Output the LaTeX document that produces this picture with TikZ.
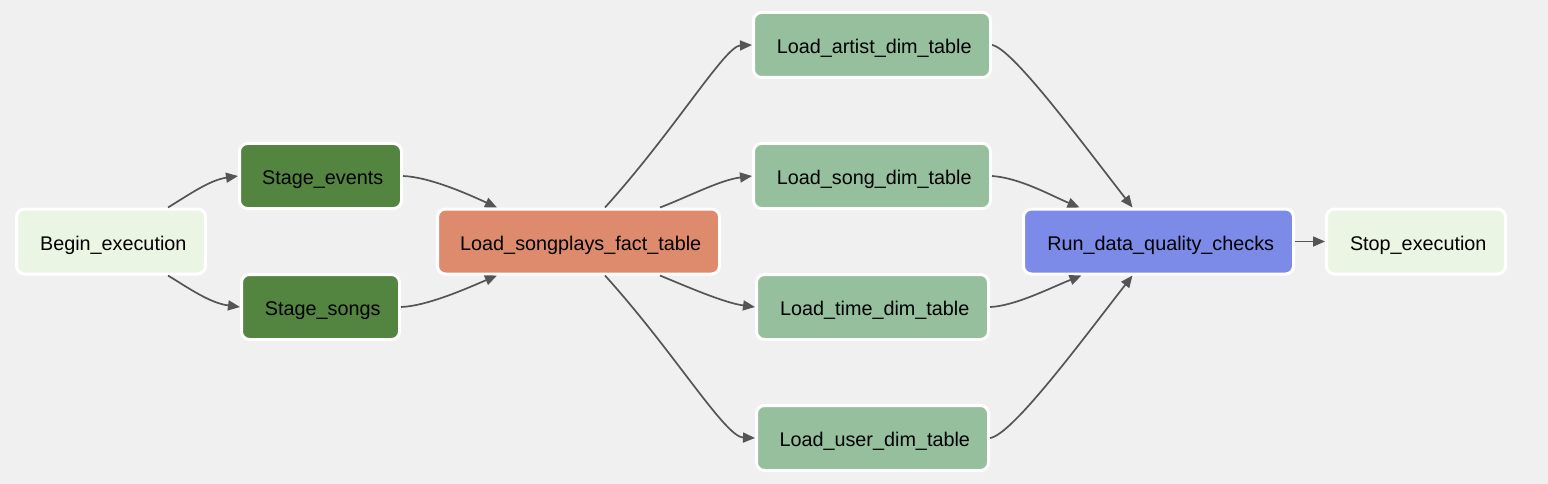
\documentclass[tikz,border=0pt]{standalone}
\usepackage{fontspec}
\setmainfont{Liberation Sans}
\usetikzlibrary{arrows.meta}
\definecolor{bgc}{HTML}{F0F0F0}
\definecolor{lightg}{HTML}{EBF5E4}
\definecolor{darkg}{HTML}{538541}
\definecolor{factc}{HTML}{DE8B6D}
\definecolor{dimc}{HTML}{95BF9D}
\definecolor{runc}{HTML}{7C8BE8}
\definecolor{edgec}{HTML}{555555}
\tikzset{
  task/.style={draw=white, line width=3pt, rounded corners=8pt, inner sep=0pt,
    minimum height=65pt, text height=17pt, text depth=0pt,
    execute at begin node={\hspace*{4.5pt}},
    font=\fontsize{19.8pt}{22pt}\selectfont, text=black},
  conn/.style={draw=edgec, line width=1.7pt, -{Triangle[length=12pt,width=10pt]}}
}
\begin{document}
\begin{tikzpicture}[x=1pt,y=-1pt]
\useasboundingbox[fill=bgc] (0,0) rectangle (1548,484);
\node[task, fill=lightg, minimum width=189pt] (begin) at (111,241.5) {Begin\_execution};
\node[task, fill=darkg, minimum width=162pt] (se) at (320.5,176) {Stage\_events};
\node[task, fill=darkg, minimum width=158pt] (ss) at (320.5,307) {Stage\_songs};
\node[task, fill=factc, minimum width=282pt] (fact) at (578.5,241.5) {Load\_songplays\_fact\_table};
\node[task, fill=dimc, minimum width=237pt] (artist) at (872,45) {Load\_artist\_dim\_table};
\node[task, fill=dimc, minimum width=237pt] (song) at (872,176) {Load\_song\_dim\_table};
\node[task, fill=dimc, minimum width=232pt] (time) at (872.5,307) {Load\_time\_dim\_table};
\node[task, fill=dimc, minimum width=232pt] (user) at (872.5,438) {Load\_user\_dim\_table};
\node[task, fill=runc, minimum width=270pt] (run) at (1158.5,241.5) {Run\_data\_quality\_checks};
\node[task, fill=lightg, minimum width=179pt] (stop) at (1416,241.5) {Stop\_execution};

\draw[conn] ([xshift=57pt]begin.north) .. controls (190,194) and (210,180) .. (se.west);
\draw[conn] ([xshift=57pt]begin.south) .. controls (190,289) and (210,303) .. (ss.west);
\draw[conn] (se.east) .. controls (430,177) and (470,195) .. ([xshift=-81.5pt]fact.north);
\draw[conn] (ss.east) .. controls (428,306) and (470,287) .. ([xshift=-81.5pt]fact.south);
\draw[conn] ([xshift=26.5pt]fact.north) .. controls (675,130) and (725,46) .. (artist.west);
\draw[conn] ([xshift=81.5pt]fact.north) .. controls (690,196) and (720,180) .. (song.west);
\draw[conn] ([xshift=81.5pt]fact.south) .. controls (690,288) and (725,303) .. (time.west);
\draw[conn] ([xshift=26.5pt]fact.south) .. controls (675,353) and (725,437) .. (user.west);
\draw[conn] (artist.east) .. controls (1012,48) and (1080,140) .. ([xshift=-26pt]run.north);
\draw[conn] (song.east) .. controls (1020,178) and (1050,195) .. ([xshift=-79pt]run.north);
\draw[conn] (time.east) .. controls (1015,306) and (1050,288) .. ([xshift=-77pt]run.south);
\draw[conn] (user.east) .. controls (1012,435) and (1080,343) .. ([xshift=-26pt]run.south);
\draw[conn] (run.east) -- (stop.west);
\end{tikzpicture}
\end{document}
